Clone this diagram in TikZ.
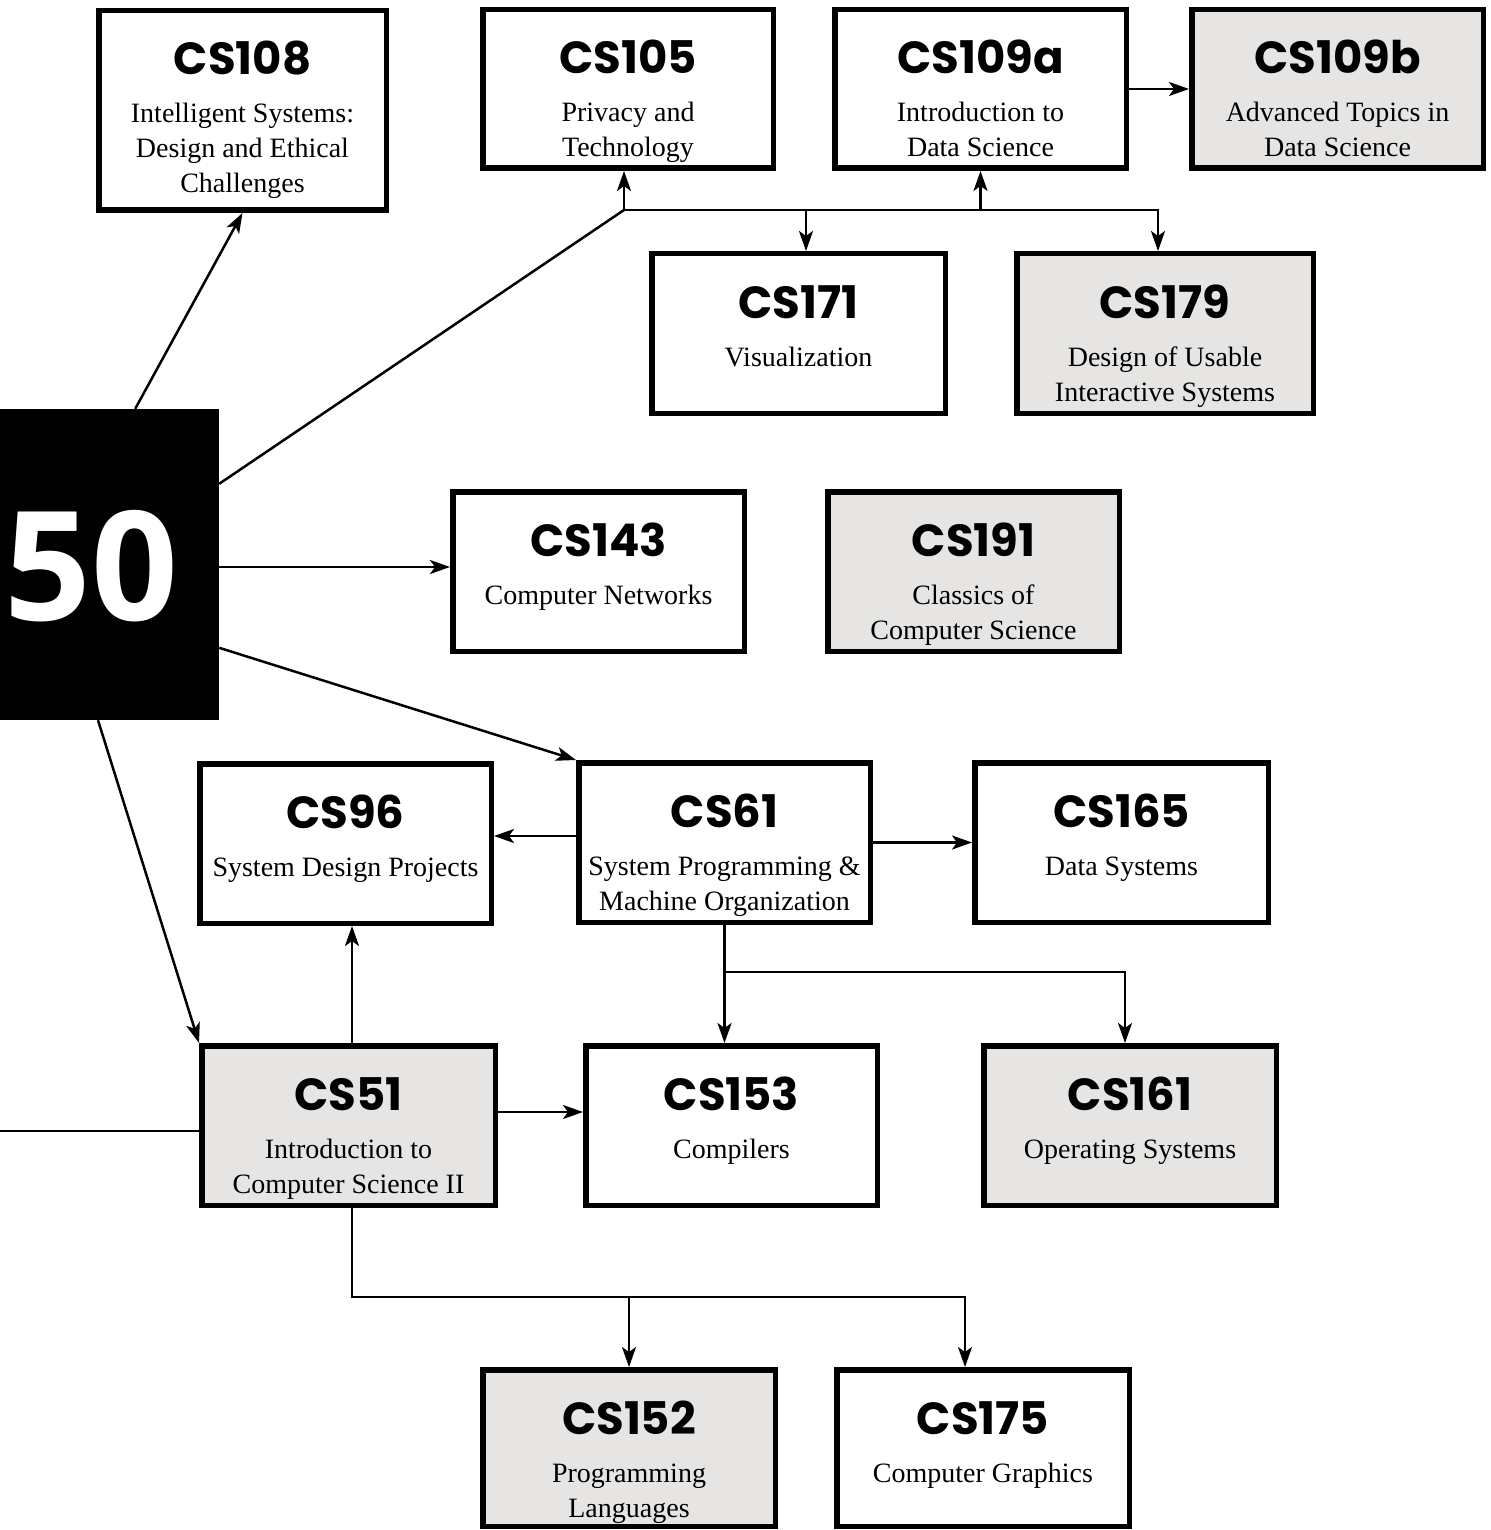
\documentclass[tikz,border=0pt]{standalone}
\usepackage{fontspec}
\setmainfont{Liberation Serif}
\newfontfamily\ttlfont{Poppins}
\newfontfamily\bigfont{Open Sans}
\usetikzlibrary{arrows.meta,calc}
\definecolor{shade}{HTML}{E6E5E3}
\tikzset{
  box/.style={draw=black, line width=5.5pt, fill=white, inner sep=0pt,
    minimum width=291.5pt, minimum height=159.5pt},
  gray box/.style={box, fill=shade},
  ttl/.style={font=\ttlfont\bfseries\fontsize{45}{50}\selectfont, inner sep=0pt},
  bdy/.style={font=\fontsize{28}{35}\selectfont, inner sep=0pt},
  conn/.style={line width=2.5pt, line join=miter},
  arr/.style={conn, -{Stealth[length=20pt,width=14pt,inset=5pt]}},
}
\newcommand\course[6]{%
  \node[#4] (#1) at (#2,#3) {};
  \node[ttl, anchor=base] (#1-t) at ([yshift=-67pt]#1.north) {#5};
  \node[bdy, anchor=base] (#1-b) at ([yshift=-115pt]#1.north) {\parbox[t]{320pt}{\centering #6}};
}
\begin{document}
\begin{tikzpicture}[x=1pt,y=-1pt]
\useasboundingbox[fill=white] (0,0) rectangle (1490,1530);

% big 50 block
\node[fill=black, inner sep=0pt, minimum width=259pt, minimum height=311pt] (fifty) at (89.5,564.5) {};
\node[text=white, font=\bigfont\bfseries\fontsize{152}{160}\selectfont, anchor=base, inner sep=0pt] (fifty-t) at (91.5,620) {50};

% courses
\course{c108}{242.5}{110.5}{box, minimum width=287.5pt, minimum height=199.5pt}{CS108}{Intelligent Systems:\\Design and Ethical\\Challenges}
\course{c105}{628}{89}{box, minimum width=290.5pt, minimum height=158.5pt}{CS105}{Privacy and\\Technology}
\course{c109a}{980.5}{89}{box, minimum height=158.5pt}{CS109a}{Introduction to\\Data Science}
\course{c109b}{1337.5}{89}{gray box, minimum height=158.5pt}{CS109b}{Advanced Topics in\\Data Science}
\course{c171}{798.5}{333.5}{box, minimum width=293.5pt}{CS171}{Visualization}
\course{c179}{1165}{333.5}{gray box, minimum width=296.5pt}{CS179}{Design of Usable\\Interactive Systems}
\course{c143}{598.5}{571.5}{box}{CS143}{Computer Networks}
\course{c191}{973.5}{571.5}{gray box}{CS191}{Classics of\\Computer Science}
\course{c96}{345.5}{843.5}{box}{CS96}{System Design Projects}
\course{c61}{724.5}{842.5}{box}{CS61}{System Programming \&\\Machine Organization}
\course{c165}{1121.5}{842.5}{box, minimum width=293.5pt}{CS165}{Data Systems}
\course{c51}{348.5}{1125.5}{gray box, minimum width=293.5pt}{CS51}{Introduction to\\Computer Science II}
\course{c153}{731.5}{1125.5}{box}{CS153}{Compilers}
\course{c161}{1130}{1125.5}{gray box, minimum width=292.5pt}{CS161}{Operating Systems}
\course{c152}{629}{1448}{gray box, minimum width=292.5pt, minimum height=156.5pt}{CS152}{Programming\\Languages}
\course{c175}{983}{1448}{box, minimum width=292.5pt, minimum height=156.5pt}{CS175}{Computer Graphics}

% junction points
\coordinate (j1) at (624,210);
\coordinate (j2) at (806,210);
\coordinate (j3) at (980.5,210);
\coordinate (j4) at (1158,210);
\coordinate (k1) at (724.5,972);
\coordinate (k2) at (1125,972);
\coordinate (m1) at (352,1297);
\coordinate (m2) at (629,1297);
\coordinate (m3) at (965,1297);
\coordinate (offl) at (-10,1131);

% connectors from 50
\draw[arr] ($(fifty.north east)+(-84,0)$) -- (c108.south);
\draw[conn] ($(fifty.north east)+(0,75)$) -- (j1);
\draw[arr] (fifty.east) ++(0,2.5) coordinate (f143) -- (f143 -| c143.west);
\draw[arr] ($(fifty.north east)+(0,239)$) -- (c61.north west);
\draw[arr] ($(fifty.south)+(8.5,0)$) -- (c51.north west);

% top branch
\draw[arr] (j1) -- (j1 |- c105.south);
\draw[arr] (j1) -- (j4) -- (j4 |- c179.north);
\draw[arr] (j2) -- (j2 |- c171.north);
\draw[arr] (j3) -- (c109a.south);
\draw[arr] (c109a.east) -- (c109b.west);

% CS61 connectors
\draw[arr] ([yshift=6.5pt]c61.west) -- ([yshift=6.5pt]c61.west -| c96.east);
\draw[arr] (c61.east) -- (c61.east -| c165.west);
\draw[arr] (c61.south) -- (c61.south |- c153.north);
\draw[arr] (k1) -- (k2) -- (k2 |- c161.north);

% CS51 connectors
\draw[arr] ([xshift=3.5pt]c51.north) -- ([xshift=3.5pt]c51.north |- c96.south);
\draw[arr] ([yshift=13.5pt]c51.east) -- ([yshift=13.5pt]c51.east -| c153.west);
\draw[conn] (offl) -- (offl -| c51.west);
\draw[arr] ([xshift=3.5pt]c51.south) -- (m1) -- (m3) -- (m3 |- c175.north);
\draw[arr] (m2) -- (c152.north);
\end{tikzpicture}
\end{document}
